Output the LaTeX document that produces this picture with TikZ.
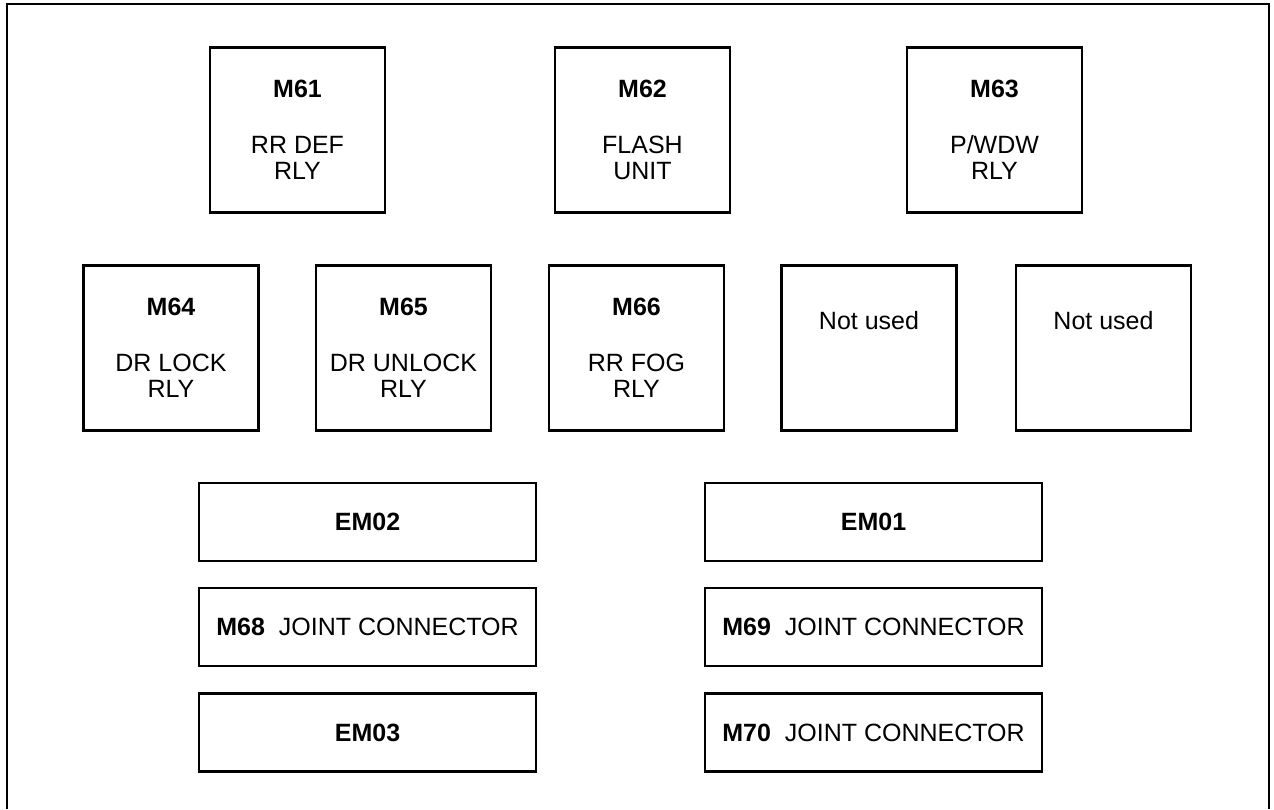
\documentclass[tikz,border=0pt]{standalone}
\usepackage{fontspec}
\setmainfont{Liberation Sans}
\usepackage{tikz}

\begin{document}
\begin{tikzpicture}[x=1pt, y=-1pt,
	relay/.style={draw, line width=2.3pt, minimum width=175pt, minimum height=165pt, inner sep=0pt, align=center, font=\fontsize{25}{26}\selectfont},
	joint/.style={draw, line width=2.3pt, minimum width=337pt, minimum height=78pt, inner sep=0pt, font=\fontsize{25}{26}\selectfont}]
			% Nền và khung ngoài
			\fill[white] (0, 0) rectangle (1274, 809);
			\draw[line width=1.2pt] (7, 809) -- (7, 4) -- (1269, 4) -- (1269, 809);

			% Hàng trên
			\node[relay] (m61) at (297.5, 130) {\textbf{M61}\\[30pt]RR DEF\\RLY};
			\node[relay] (m62) at (642.5, 130) {\textbf{M62}\\[30pt]FLASH\\UNIT};
			\node[relay] (m63) at (994.5, 130) {\textbf{M63}\\[30pt]P/WDW\\RLY};

			% Hàng giữa
			\node[relay] (m64) at (171, 348) {\textbf{M64}\\[30pt]DR LOCK\\RLY};
			\node[relay] (m65) at (403.5, 348) {\textbf{M65}\\[30pt]DR UNLOCK\\RLY};
			\node[relay] (m66) at (636.5, 348) {\textbf{M66}\\[30pt]RR FOG\\RLY};
			\node[relay] (nu1) at (869, 348) {Not used\\[30pt]};
			\node[relay] (nu2) at (1103.5, 348) {Not used\\[30pt]};

			% Các đầu nối phía dưới
			\node[joint] (em02) at (367.5, 522) {\textbf{EM02}};
			\node[joint] (em01) at (873.5, 522) {\textbf{EM01}};
			\node[joint] (m68) at (367.5, 627) {\textbf{M68}\hspace{14pt}JOINT CONNECTOR};
			\node[joint] (m69) at (873.5, 627) {\textbf{M69}\hspace{14pt}JOINT CONNECTOR};
			\node[joint] (em03) at (367.5, 732.5) {\textbf{EM03}};
			\node[joint] (m70) at (873.5, 732.5) {\textbf{M70}\hspace{14pt}JOINT CONNECTOR};
		\end{tikzpicture}
\end{document}
